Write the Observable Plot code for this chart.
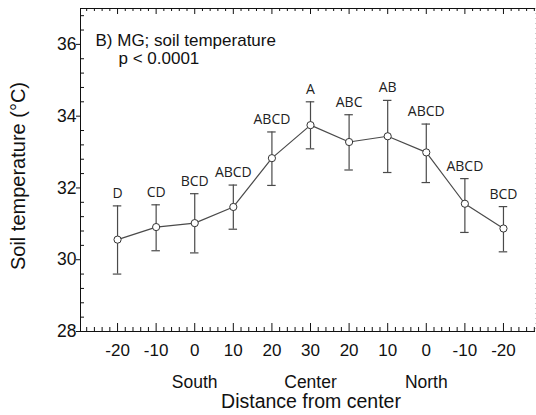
<!DOCTYPE html>
<html>
<head>
<meta charset="utf-8">
<script src="https://cdn.jsdelivr.net/npm/d3@7"></script>
<script src="https://cdn.jsdelivr.net/npm/@observablehq/plot@0.6"></script>
<style>
  html, body { margin: 0; padding: 0; background: #fff; }
  #chart svg { display: block; }
</style>
</head>
<body>
<div id="chart"></div>
<script>
// ---- data ----
const xLabels = ["-20", "-10", "0", "10", "20", "30", "20", "10", "0", "-10", "-20"];
const means   = [30.56, 30.91, 31.02, 31.47, 32.83, 33.75, 33.28, 33.44, 32.99, 31.56, 30.87];
const upper   = [31.50, 31.53, 31.84, 32.08, 33.56, 34.40, 34.04, 34.44, 33.78, 32.26, 31.48];
const lower   = [29.60, 30.25, 30.19, 30.85, 32.07, 33.09, 32.50, 32.43, 32.15, 30.76, 30.22];
const letters = ["D", "CD", "BCD", "ABCD", "ABCD", "A", "ABC", "AB", "ABCD", "ABCD", "BCD"];
const regionNames = ["South", "Center", "North"];
const regionIndex = [2, 5, 8];
const yTicks = [28, 30, 32, 34, 36];
const titleText = "B) MG; soil temperature";
const pText = "p < 0.0001";
const xTitle = "Distance from center";
const yTitle = "Soil temperature (°C)";

// ---- derived tables ----
const rows = xLabels.map((lab, i) => ({i, lab, mean: means[i], hi: upper[i], lo: lower[i], letter: letters[i]}));
const regions = regionNames.map((name, k) => ({i: regionIndex[k], name}));
const xDomain = [-0.96, 10.83];
const yDomain = [28, 37];
const xMajor = d3.range(xLabels.length);
const xMinor = d3.range(-4, 55).filter(k => k % 5 !== 0).map(k => k / 5);
const yMinor = d3.range(71, 93).filter(k => k % 5 !== 0).map(k => k * 0.4);

const W = 536, H = 415, ML = 80, MR = 1, MT = 8, MB = 84;
const frameW = W - ML - MR, frameH = H - MT - MB;
const yPx = (yDomain[1] - yDomain[0]) / frameH;
const xPx = (xDomain[1] - xDomain[0]) / frameW;
const yLo = yDomain[0], yHi = yDomain[1], xLo = xDomain[0];

// tick rows: bottom/top ticks along x, left ticks along y
const bottomTicks = xMajor.map(v => ({v, len: 8})).concat(xMinor.map(v => ({v, len: 4})));
const topTicks = xMajor.map(v => ({v, len: 6})).concat(xMinor.map(v => ({v, len: 3})));
const leftTicks = yMinor.map(v => ({v, len: 4}));

const sans = "'Liberation Sans', Arial, sans-serif";
const lineColor = "#4a4a4a";
const axisColor = "#111";

const chart = Plot.plot({
  width: W,
  height: H,
  marginLeft: ML,
  marginRight: MR,
  marginTop: MT,
  marginBottom: MB,
  style: {fontFamily: sans, color: "#111", background: "#fff"},
  x: {type: "linear", domain: xDomain},
  y: {type: "linear", domain: yDomain},
  marks: [
    // frame
    Plot.ruleY([yLo], {stroke: axisColor}),
    Plot.ruleY([yHi], {stroke: axisColor}),
    Plot.ruleX([xLo], {stroke: axisColor}),
    Plot.ruleX([xDomain[1]], {stroke: "#ccc", strokeDasharray: "1,4"}),
    // inward ticks
    Plot.ruleX(bottomTicks, {x: "v", y1: () => yLo, y2: d => yLo + d.len * yPx, stroke: axisColor, strokeWidth: 1}),
    Plot.ruleX(topTicks, {x: "v", y1: () => yHi, y2: d => yHi - d.len * yPx, stroke: axisColor, strokeWidth: 1}),
    Plot.ruleY(leftTicks, {y: "v", x1: () => xLo, x2: d => xLo + d.len * xPx, stroke: axisColor, strokeWidth: 1}),
    // y axis
    Plot.axisY({ticks: yTicks, tickSize: 4, tickPadding: 0, fontSize: 17.5, label: null, stroke: axisColor}),
    // bottom x axis labels
    Plot.axisX({ticks: xMajor, tickSize: 0, tickPadding: 12, fontSize: 17, label: null, tickFormat: i => xLabels[i]}),
    // error bars
    Plot.ruleX(rows, {x: "i", y1: "lo", y2: "hi", stroke: lineColor, strokeWidth: 1.2}),
    Plot.ruleY(rows, {y: "hi", x1: d => d.i - 0.11, x2: d => d.i + 0.11, stroke: lineColor, strokeWidth: 1.2}),
    Plot.ruleY(rows, {y: "lo", x1: d => d.i - 0.11, x2: d => d.i + 0.11, stroke: lineColor, strokeWidth: 1.2}),
    // line and points
    Plot.line(rows, {x: "i", y: "mean", stroke: lineColor, strokeWidth: 1.2}),
    Plot.dot(rows, {x: "i", y: "mean", r: 3.6, fill: "#fff", stroke: "#333", strokeWidth: 1}),
    // letters
    Plot.text(rows, {x: "i", y: "hi", text: "letter", lineAnchor: "bottom", dy: -8, fontSize: 14, fontFamily: "'Open Sans', sans-serif", fill: "#222"}),
    // title
    Plot.text([titleText], {frameAnchor: "top-left", textAnchor: "start", lineAnchor: "bottom", dx: 15, dy: 37, fontSize: 17, fill: "#111"}),
    Plot.text([pText], {frameAnchor: "top-left", textAnchor: "start", lineAnchor: "bottom", dx: 38, dy: 55, fontSize: 17, fill: "#111"}),
    // region labels
    Plot.text(regions, {x: "i", text: "name", frameAnchor: "bottom", lineAnchor: "bottom", dy: 56, fontSize: 17.5, fill: "#111"}),
    // axis titles
    Plot.text([xTitle], {frameAnchor: "bottom", lineAnchor: "bottom", dx: 3, dy: 76, fontSize: 19.5, fill: "#111"}),
    Plot.text([yTitle], {frameAnchor: "left", textAnchor: "middle", rotate: -90, dx: -62, dy: 6, fontSize: 20, fill: "#111"})
  ]
});
document.getElementById("chart").appendChild(chart);
</script>
</body>
</html>
